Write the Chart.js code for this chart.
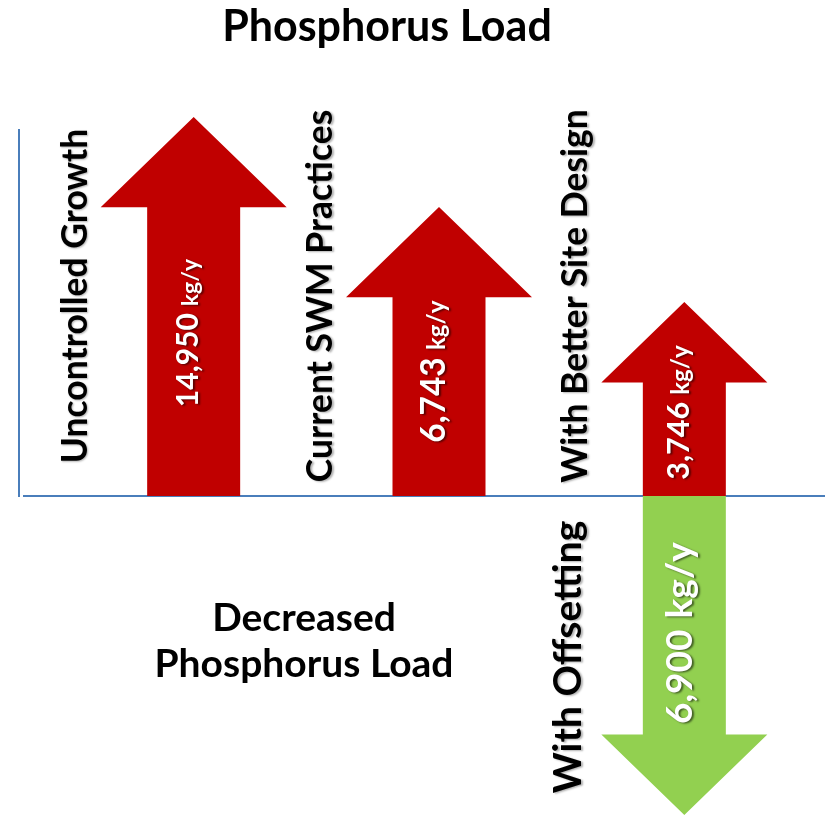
<!DOCTYPE html>
<html>
<head>
<meta charset="utf-8">
<script src="https://cdn.jsdelivr.net/npm/chart.js@4.4.0/dist/chart.umd.min.js"></script>
<style>
    html, body { margin: 0; padding: 0; background: #fff; }
    #wrap { width: 825px; height: 816px; }
</style>
</head>
<body>
<div id="wrap"><canvas id="load-chart"></canvas></div>
<script>
const categories = ['Uncontrolled Growth', 'Current SWM Practices', 'With Better Site Design'];
const loadValues = ['14,950', '6,743', '3,746'];
// drawn arrow lengths (no value axis in the original)
const arrowLength = [37.9, 28.9, 19.4];
const offsetCategory = 'With Offsetting';
const offsetValue = '6,900';
const offsetLength = -31.9;
const unit = 'kg/y';

const FONT = 'Lato, "Open Sans", sans-serif';
const RED = '#C00000';
const GREEN = '#92D050';
const AXIS = '#4A7EBB';

function drawArrow(ctx, x, tip, base, width, color) {
    const dir = tip < base ? -1 : 1;
    const headLen = width * 0.97;
    const headBase = tip - dir * headLen;
    const half = width / 2;
    ctx.save();
    ctx.fillStyle = color;
    ctx.beginPath();
    ctx.moveTo(x - half, base);
    ctx.lineTo(x - half, headBase);
    ctx.lineTo(x - width, headBase);
    ctx.lineTo(x, tip);
    ctx.lineTo(x + width, headBase);
    ctx.lineTo(x + half, headBase);
    ctx.lineTo(x + half, base);
    ctx.closePath();
    ctx.fill();
    ctx.restore();
}

// white number + unit, reading bottom to top
function drawValueLabel(ctx, num, cx, cy, numSize, unitSize) {
    ctx.save();
    ctx.translate(cx, cy);
    ctx.rotate(-Math.PI / 2);
    ctx.fillStyle = '#fff';
    ctx.shadowColor = 'rgba(0,0,0,0.55)';
    ctx.shadowOffsetX = 2;
    ctx.shadowOffsetY = 1;
    ctx.shadowBlur = 2;
    ctx.textBaseline = 'alphabetic';
    ctx.textAlign = 'left';
    ctx.font = `bold ${numSize}px ${FONT}`;
    const wn = ctx.measureText(num).width;
    ctx.font = `bold ${unitSize}px ${FONT}`;
    const wu = ctx.measureText(unit).width;
    const gap = unitSize * 0.3;
    const start = -(wn + gap + wu) / 2;
    const baseV = numSize * 0.36 - 6;
    ctx.font = `bold ${numSize}px ${FONT}`;
    ctx.fillText(num, start, baseV);
    ctx.font = `bold ${unitSize}px ${FONT}`;
    ctx.fillText(unit, start + wn + gap, baseV);
    ctx.restore();
}

function drawCategoryLabel(ctx, text, baseX, cy, size) {
    ctx.save();
    ctx.translate(baseX, cy);
    ctx.rotate(-Math.PI / 2);
    ctx.fillStyle = '#000';
    ctx.shadowColor = 'rgba(0,0,0,0.3)';
    ctx.shadowOffsetX = 1.5;
    ctx.shadowOffsetY = 1;
    ctx.shadowBlur = 2;
    ctx.font = `bold ${size}px ${FONT}`;
    ctx.textAlign = 'center';
    ctx.textBaseline = 'alphabetic';
    ctx.fillText(text, 0, 0);
    ctx.restore();
}

const arrowPlugin = {
    id: 'arrows',
    beforeDatasetsDraw(chart) {
        const ctx = chart.ctx;
        const zeroY = chart.scales.y.getPixelForValue(0);
        ctx.save();
        ctx.strokeStyle = AXIS;
        ctx.lineWidth = 2;
        ctx.beginPath();
        ctx.moveTo(19, 129);
        ctx.lineTo(19, zeroY + 1);
        ctx.moveTo(23, zeroY);
        ctx.lineTo(chart.width, zeroY);
        ctx.stroke();
        ctx.restore();
    },
    beforeDatasetDraw(chart, args) {
        const ctx = chart.ctx;
        const ds = chart.data.datasets[args.index];
        const zeroY = chart.scales.y.getPixelForValue(0);
        args.meta.data.forEach((bar, i) => {
            if (ds.data[i] == null) return;
            const { x, y, base, width } = bar.getProps(['x', 'y', 'base', 'width'], true);
            drawArrow(ctx, x, y, base, width, ds.arrowColor);
            const len = y - base;
            drawValueLabel(ctx, ds.valueText[i], x, base + len * 0.43, ds.numSize[i], ds.unitSize[i]);

            ctx.font = `bold ${ds.catSize}px ${FONT}`;
            const w = ctx.measureText(ds.catText[i]).width;
            const cy = len < 0 ? Math.min(zeroY - 200, zeroY - 8 - w / 2) : zeroY + 161;
            const bx = len < 0 ? x - width - 14 : x - width - 20;
            drawCategoryLabel(ctx, ds.catText[i], bx, cy, ds.catSize);
        });
        return false;
    },
    afterDraw(chart) {
        const ctx = chart.ctx;
        ctx.save();
        ctx.fillStyle = '#000';
        ctx.textAlign = 'center';
        ctx.textBaseline = 'alphabetic';
        ctx.font = `bold 43px ${FONT}`;
        ctx.fillText('Phosphorus Load', 387, 41);
        ctx.font = `bold 39px ${FONT}`;
        ctx.fillText('Decreased', 304, 631);
        ctx.fillText('Phosphorus Load', 304, 677);
        ctx.restore();
    }
};

const pick = (arr, keep) => arr.map((v, i) => keep.includes(i) ? v : null);

new Chart(document.getElementById('load-chart'), {
    type: 'bar',
    data: {
        labels: categories,
        datasets: [
            {
                label: 'Phosphorus load',
                data: pick(arrowLength, [0, 1]),
                valueText: loadValues,
                catText: categories,
                arrowColor: RED,
                backgroundColor: RED,
                barThickness: 93,
                numSize: [30, 33.5, 30.5],
                unitSize: [23, 24, 24],
                catSize: 35.5
            },
            {
                label: 'Phosphorus load',
                data: pick(arrowLength, [2]),
                valueText: loadValues,
                catText: categories,
                arrowColor: RED,
                backgroundColor: RED,
                barThickness: 83,
                numSize: [30, 33.5, 30.5],
                unitSize: [23, 24, 24],
                catSize: 35.5
            },
            {
                label: 'Decreased phosphorus load',
                data: [null, null, offsetLength],
                valueText: [null, null, offsetValue],
                catText: [null, null, offsetCategory],
                arrowColor: GREEN,
                backgroundColor: GREEN,
                barThickness: 83,
                numSize: [null, null, 37],
                unitSize: [null, null, 37],
                catSize: 39
            }
        ]
    },
    options: {
        responsive: true,
        maintainAspectRatio: false,
        animation: false,
        layout: { padding: { left: 71, right: 18, top: 96, bottom: 0 } },
        plugins: {
            legend: { display: false },
            tooltip: { enabled: false },
            title: { display: false }
        },
        scales: {
            x: { stacked: true, display: false, offset: true },
            y: { stacked: true, display: false, min: -32, max: 40 }
        }
    },
    plugins: [arrowPlugin]
});
</script>
</body>
</html>
